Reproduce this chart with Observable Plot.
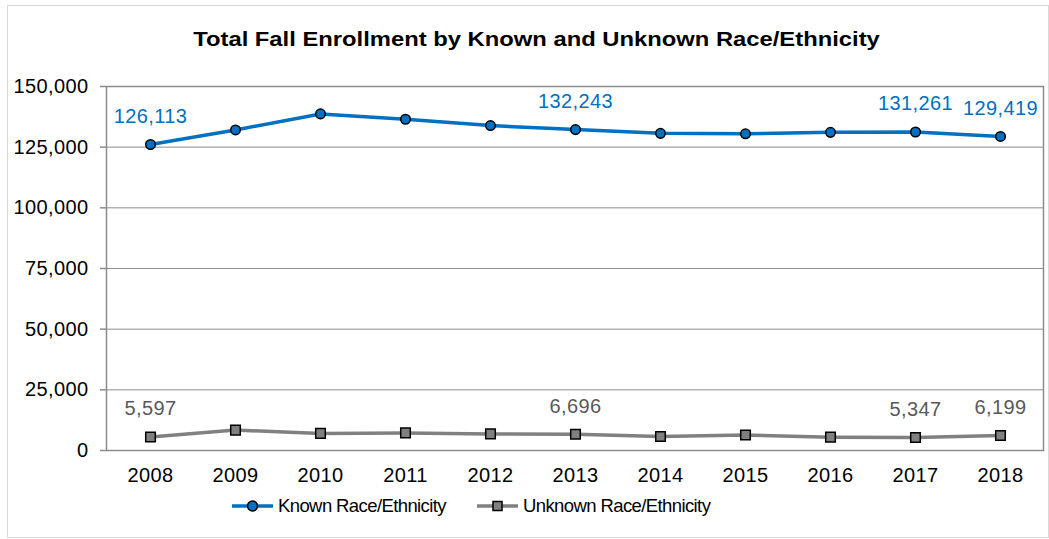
<!DOCTYPE html>
<html><head><meta charset="utf-8">
<script src="https://cdn.jsdelivr.net/npm/d3@7"></script>
<script src="https://cdn.jsdelivr.net/npm/@observablehq/plot@0.6"></script>
<style>
body{margin:0;background:#fff;font-family:"Liberation Sans",Arial,sans-serif;}
#wrap{position:relative;width:1049px;height:539px;overflow:hidden;background:#fff;}
#frame{position:absolute;left:7px;top:5px;width:1042px;height:533px;border:1px solid #d9d9d9;box-sizing:border-box;}
#title{position:absolute;top:27px;left:12px;width:1049px;text-align:center;font-weight:bold;font-size:20.5px;line-height:24px;color:#000;transform:scaleX(1.16);transform-origin:center;white-space:nowrap;}
#chart{position:absolute;left:0;top:60px;}
.leg{position:absolute;top:494px;height:24px;display:flex;align-items:center;font-size:18.5px;letter-spacing:-0.6px;color:#000;white-space:nowrap;}
.leg svg{margin-right:5px;}
</style></head>
<body>
<div id="wrap">
<div id="frame"></div>
<div id="title">Total Fall Enrollment by Known and Unknown Race/Ethnicity</div>
<div id="chart"></div>
<div class="leg" id="leg1" style="left:232px"></div>
<div class="leg" id="leg2" style="left:477px"></div>
</div>
<script>
const years = [2008, 2009, 2010, 2011, 2012, 2013, 2014, 2015, 2016, 2017, 2018];
const known = [126113, 132100, 138700, 136500, 133900, 132243, 130700, 130500, 131100, 131261, 129419];
const unknown = [5597, 8400, 7050, 7250, 6850, 6696, 5800, 6400, 5500, 5347, 6199];
const labelledYears = [2008, 2013, 2017, 2018];
const yTicks = [0, 25000, 50000, 75000, 100000, 125000, 150000];
const seriesNames = ["Known Race/Ethnicity", "Unknown Race/Ethnicity"];
const blue = "#0070c0", gray = "#808080";

const data = years.map((y, i) => ({year: String(y), yr: y, known: known[i], unknown: unknown[i]}));
const lab = data.filter(d => labelledYears.includes(d.yr));
const fmt = d3.format(",");

const chart = Plot.plot({
  width: 1049, height: 430,
  marginLeft: 106, marginRight: 6, marginTop: 26, marginBottom: 40,
  x: {type: "point", domain: years.map(String), padding: 0.5, label: null},
  y: {domain: [0, 150000], label: null},
  style: {fontFamily: "Liberation Sans, Arial, sans-serif", fontSize: "20px", color: "#000", background: "transparent", letterSpacing: "0.4px"},
  marks: [
    Plot.ruleY(yTicks, {stroke: "#8c8c8c", strokeWidth: 1}),
    Plot.frame({stroke: "#8c8c8c", strokeWidth: 1.5}),
    Plot.axisY({ticks: yTicks, tickSize: 6, tickPadding: 12, tickFormat: fmt, stroke: "#8c8c8c", strokeWidth: 1.5, fill: "#000", label: null}),
    Plot.axisX({tickSize: 0, tickPadding: 17, fill: "#000", label: null}),
    Plot.line(data, {x: "year", y: "known", stroke: blue, strokeWidth: 3.5}),
    Plot.dot(data, {x: "year", y: "known", r: 4.8, fill: blue, stroke: "#000", strokeWidth: 1.5}),
    Plot.line(data, {x: "year", y: "unknown", stroke: gray, strokeWidth: 3.5}),
    Plot.dot(data, {x: "year", y: "unknown", symbol: "square", r: 5.4, fill: gray, stroke: "#000", strokeWidth: 1.5}),
    Plot.text(lab, {x: "year", y: "known", text: d => fmt(d.known), dy: -28, fill: blue, fontSize: 20}),
    Plot.text(lab, {x: "year", y: "unknown", text: d => fmt(d.unknown), dy: -28, fill: "#595959", fontSize: 20})
  ]
});
document.getElementById("chart").appendChild(chart);

function swatch(color, shape) {
  const m = shape === "circle"
    ? `<circle cx="20.5" cy="10" r="5" fill="${color}" stroke="#000" stroke-width="1.5"/>`
    : `<rect x="16" y="5.5" width="9" height="9" fill="${color}" stroke="#000" stroke-width="1.5"/>`;
  return `<svg width="41" height="20"><line x1="0" x2="41" y1="10" y2="10" stroke="${color}" stroke-width="3.5"/>${m}</svg>`;
}
document.getElementById("leg1").innerHTML = swatch(blue, "circle") + `<span>${seriesNames[0]}</span>`;
document.getElementById("leg2").innerHTML = swatch(gray, "square") + `<span>${seriesNames[1]}</span>`;
</script>
</body></html>
